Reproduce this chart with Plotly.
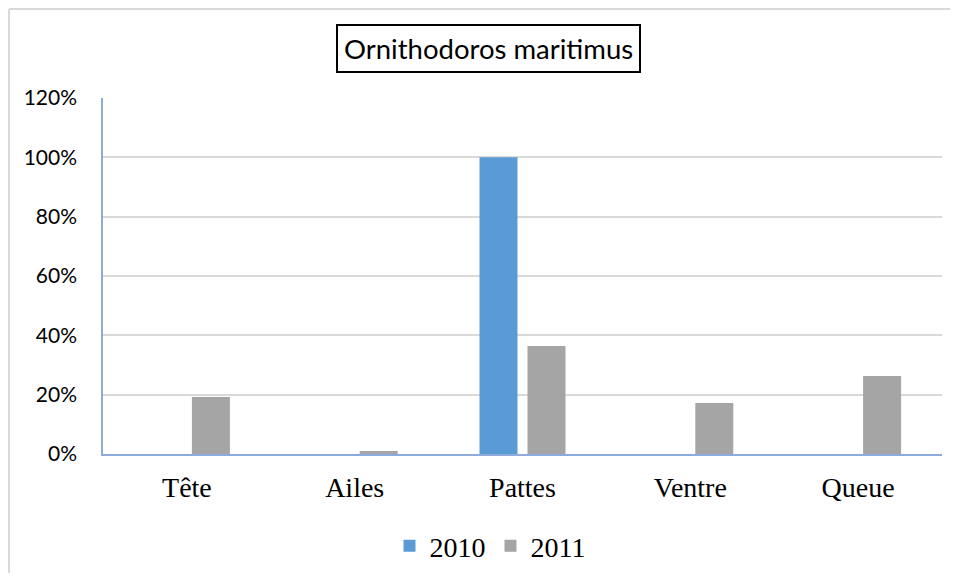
import plotly.graph_objects as go

categories = ["Tête", "Ailes", "Pattes", "Ventre", "Queue"]
series_2010 = [0.0, 0.0, 1.00, 0.0, 0.0]
series_2011 = [0.192, 0.01, 0.364, 0.172, 0.263]
y_ticks = [0, 0.2, 0.4, 0.6, 0.8, 1.0, 1.2]
y_tick_labels = ["0%", "20%", "40%", "60%", "80%", "100%", "120%"]

OFF = 8  # page body margin
W, H = 958 - OFF, 581 - 2 * OFF
L, T = 103 - OFF, 98 - OFF
R = W - (942 - OFF)
B = H - (454 - OFF)
pw, ph = W - L - R, H - T - B

def px(x):
    return (x - OFF - L) / pw

def py(y):
    return (H - B - (y - OFF)) / ph

fig = go.Figure()
fig.add_trace(go.Bar(x=categories, y=series_2010, name="2010", marker=dict(color="#5b9bd5", line=dict(width=0))))
fig.add_trace(go.Bar(x=categories, y=series_2011, name="2011", marker=dict(color="#a5a5a5", line=dict(width=0))))

fig.update_layout(
    width=W, height=H,
    margin=dict(l=L, r=R, t=T, b=B, autoexpand=False),
    paper_bgcolor="white", plot_bgcolor="white",
    barmode="group", bargap=0.428, bargroupgap=0.208,
    showlegend=True,
    legend=dict(orientation="h", x=px(490), xanchor="center", y=py(546), yanchor="middle",
                font=dict(family="Liberation Serif", size=28, color="black"),
                itemwidth=30, tracegroupgap=0, traceorder="normal"),
    xaxis=dict(showgrid=False, showline=True, linecolor="#8faadc", linewidth=1.5,
               tickfont=dict(family="Liberation Serif", size=28, color="black"),
               ticks="", ticklabelstandoff=8, automargin=False),
    yaxis=dict(range=[0, 1.2], tickvals=y_ticks, ticktext=y_tick_labels,
               showgrid=True, gridcolor="#d9d9d9", gridwidth=1.5,
               showline=True, linecolor="#8faadc", linewidth=1.5,
               zeroline=False, ticks="", automargin=False,
               tickfont=dict(family="Lato", size=21, color="black"),
               ticklabelstandoff=20),
    font=dict(family="Lato", color="black"),
)

fig.add_annotation(
    x=px(488), y=py(48), xref="paper", yref="paper",
    text="Ornithodoros maritimus", showarrow=False,
    font=dict(family="Lato", size=27.5, color="black"),
    bordercolor="black", borderwidth=2, borderpad=6, bgcolor="white",
    xanchor="center", yanchor="middle",
)

# outer chart frame (only top and left edges visible)
fig.add_shape(type="line", xref="paper", yref="paper",
              x0=px(9), x1=px(970), y0=py(9), y1=py(9),
              line=dict(color="#d9d9d9", width=2))
fig.add_shape(type="line", xref="paper", yref="paper",
              x0=px(9), x1=px(9), y0=py(9), y1=py(600),
              line=dict(color="#d9d9d9", width=2))

fig.write_html("out.html")
